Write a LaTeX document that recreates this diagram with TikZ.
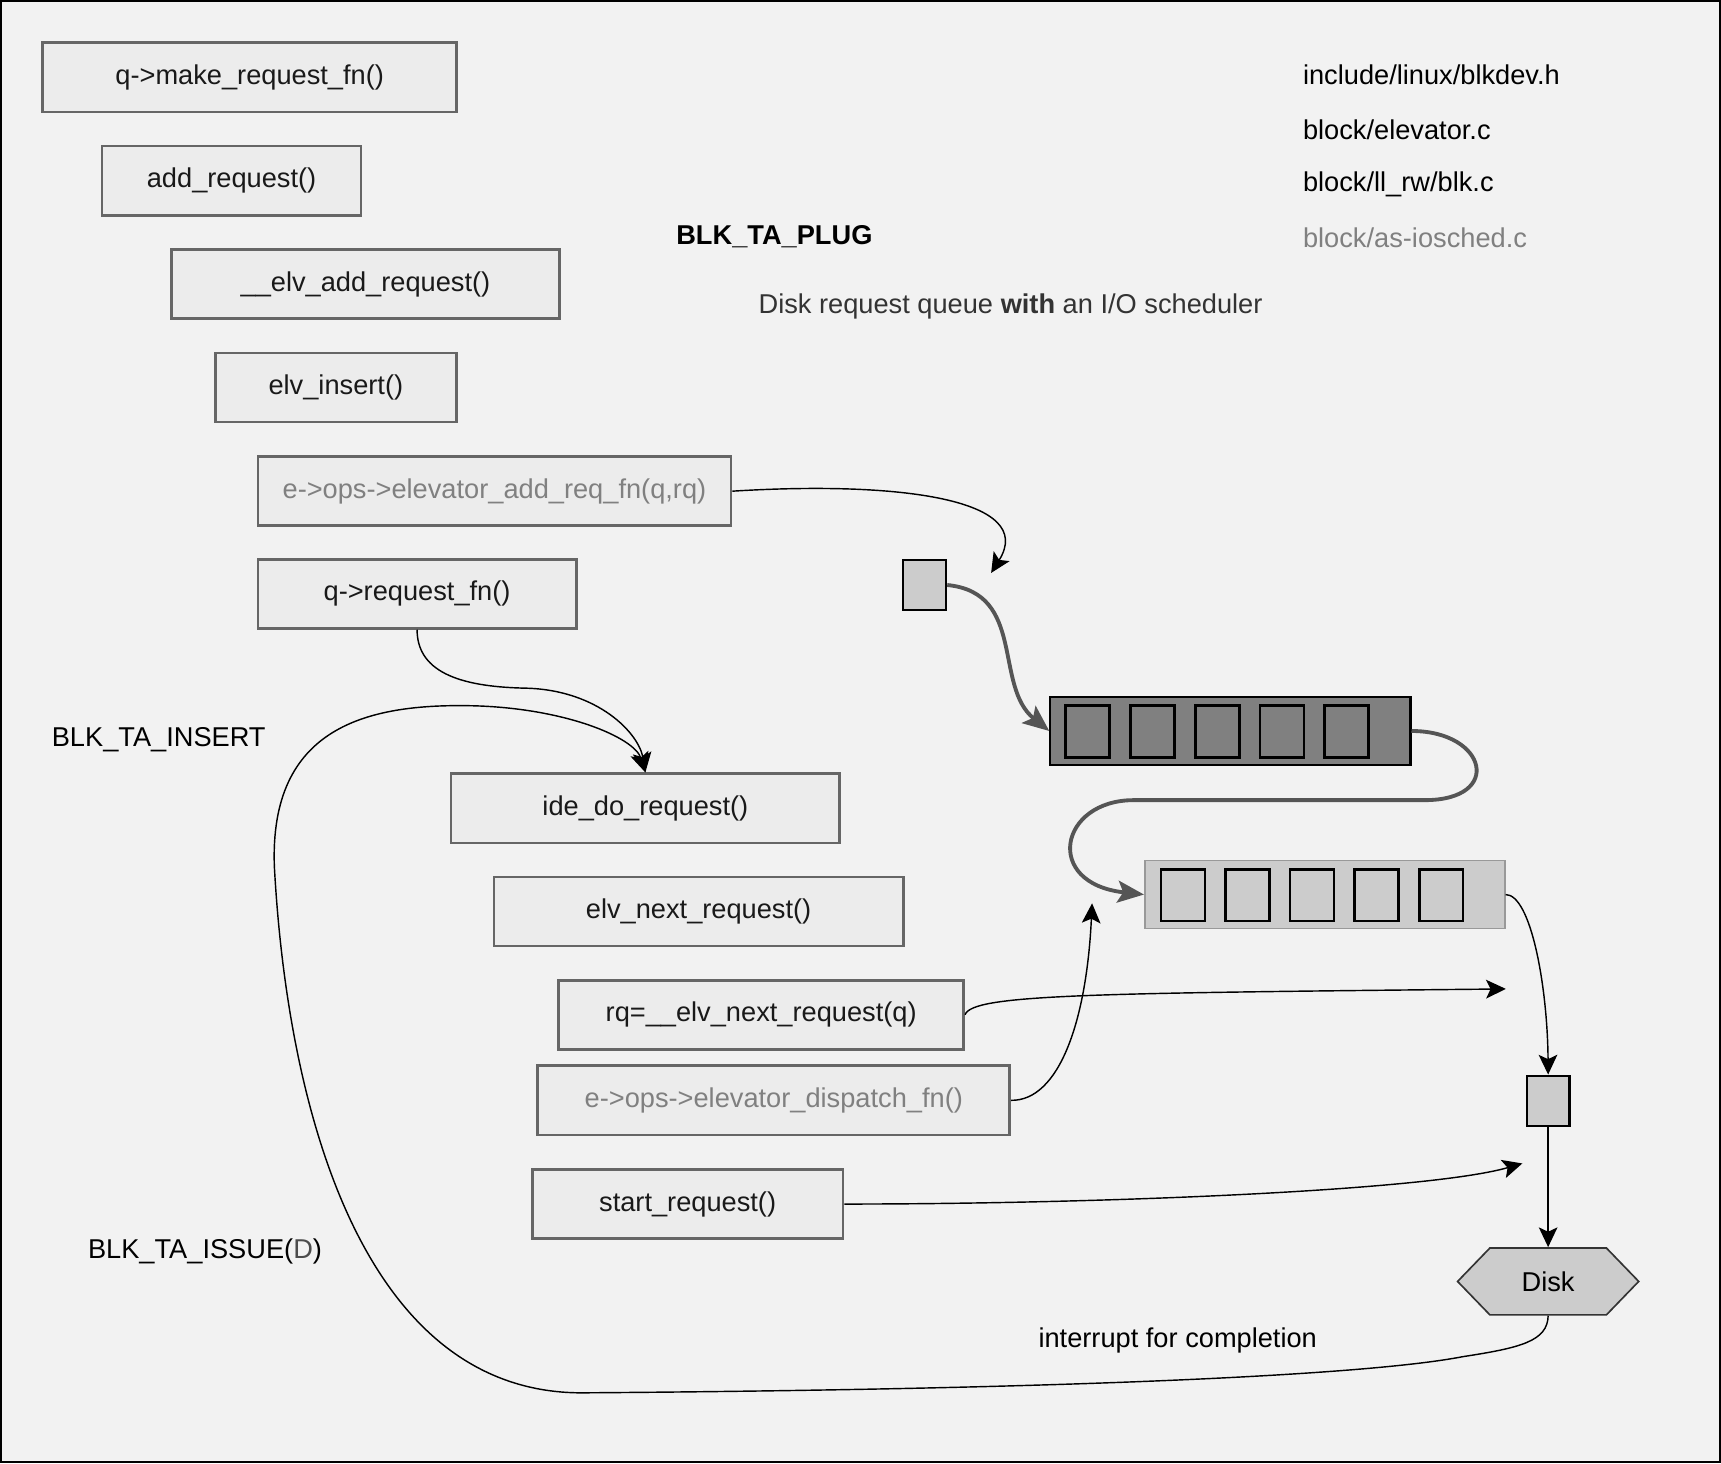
\documentclass[tikz,border=0pt]{standalone}
\usepackage{fontspec}
\setmainfont{Liberation Sans}
\usetikzlibrary{arrows.meta,shapes.symbols}
\definecolor{bgcol}{HTML}{F2F2F2}
\definecolor{boxfill}{HTML}{ECECEC}
\definecolor{boxline}{HTML}{666666}
\definecolor{celldark}{HTML}{808080}
\definecolor{celllight}{HTML}{CCCCCC}
\definecolor{flowgray}{HTML}{555555}
\definecolor{dimtext}{HTML}{808080}
\begin{document}
\begin{tikzpicture}[x=1pt,y=-1pt,
  font=\fontsize{24.8}{30}\selectfont,
  >={Stealth[length=18pt,width=17pt,inset=4pt]},
  fnbox/.style={draw=boxline,fill=boxfill,line width=2.5pt,minimum height=63pt,inner sep=0pt,text=black!90},
  dimbox/.style={fnbox,text=dimtext},
  label/.style={anchor=west,inner sep=0pt},
  queue/.style={draw=black,line width=2pt,minimum width=328pt,minimum height=62pt,inner sep=0pt},
  cell/.style={draw=black,line width=2.5pt,minimum width=40pt,minimum height=47pt,inner sep=0pt},
  slot/.style={draw=black,fill=celllight,line width=2pt,minimum width=39pt,minimum height=46pt,inner sep=0pt},
  flow/.style={->,line width=1.3pt},
  move/.style={->,line width=3.5pt,draw=flowgray,>={Stealth[length=24pt,width=20pt,inset=5pt]}}]
\useasboundingbox (0,0) rectangle (1568,1333);
\fill[bgcol] (0,0) rectangle (1568,1333);
\draw[line width=1.5pt] (0.75,0.75) rectangle (1567.25,1332.25);

% Call chain
\node[fnbox,minimum width=377pt] (mkreq) at (227.5,70.5) {q->make\_request\_fn()};
\node[fnbox,minimum width=236pt] (addreq) at (211,164.5) {add\_request()};
\node[fnbox,minimum width=354pt] (elvadd) at (333,259) {\_\_elv\_add\_request()};
\node[fnbox,minimum width=220pt] (elvins) at (306,353) {elv\_insert()};
\node[dimbox,minimum width=431pt] (addfn) at (450.5,447.5) {e->ops->elevator\_add\_req\_fn(q,rq)};
\node[fnbox,minimum width=290pt] (reqfn) at (380,541) {q->request\_fn()};
\node[fnbox,minimum width=354pt] (idedo) at (588,736.5) {ide\_do\_request()};
\node[fnbox,minimum width=373pt] (elvnext) at (636.5,830.5) {elv\_next\_request()};
\node[fnbox,minimum width=369pt] (rqnext) at (693.5,924.5) {rq=\_\_elv\_next\_request(q)};
\node[dimbox,minimum width=430pt] (dispfn) at (705,1002.5) {e->ops->elevator\_dispatch\_fn()};
\node[fnbox,minimum width=283pt] (startreq) at (626.5,1097) {start\_request()};

% Labels
\node[label,font=\fontsize{24.8}{30}\selectfont\bfseries] (plug) at (616,216) {BLK\_TA\_PLUG};
\node[label,text=black!80] (title) at (691,279) {Disk request queue \textbf{with} an I/O scheduler};
\node[label] (insert) at (47,674) {BLK\_TA\_INSERT};
\node[label] (issue) at (80,1140) {BLK\_TA\_ISSUE(\textcolor{black!70}{D})};
\node[label] (irq) at (946,1221) {interrupt for completion};
\node[label] (src1) at (1187,68) {include/linux/blkdev.h};
\node[label] (src2) at (1187,118) {block/elevator.c};
\node[label] (src3) at (1187,168) {block/ll\_rw/blk.c};
\node[label,text=dimtext] (src4) at (1187,217) {block/as-iosched.c};

% Queues and requests
\node[slot] (newrq) at (842.5,533) {};
\node[queue,fill=celldark] (schedq) at (1121,666) {};
\node[queue,fill=celllight,draw=black!40,line width=1.5pt] (dispq) at (1207,815) {};
\foreach \i in {1,...,5} {
  \node[cell,fill=celldark] (sq\i) at (932+59*\i,666.5) {};
  \node[cell,fill=celllight] (dq\i) at (1019+58.8*\i,815.5) {};
}
\node[slot] (outrq) at (1410.5,1003) {};
\node[signal,signal to=west and east,signal pointer angle=92,draw=black!80,fill=celllight,
  line width=1.5pt,minimum width=165pt,minimum height=61pt,inner sep=0pt] (disk) at (1410.5,1167.5) {Disk};

% Free arrow ends
\coordinate (plugtip) at (903,522);
\coordinate (rqtip) at (1372,901);
\coordinate (disptip) at (995,823);
\coordinate (starttip) at (1387,1060);

% Request flow
\draw[flow] (addfn.east) .. controls (820,438) and (945,455) .. (plugtip);
\draw[move] (newrq.east) .. controls (935,540) and (905,625) .. (schedq.west);
\draw[move] (schedq.east) .. controls (1355,666) and (1370,729) .. (1298,729) -- (1033,729)
  .. controls (965,729) and (950,805) .. (dispq.west);
\draw[flow] (dispq.east) .. controls (1395,815) and (1410,900) .. (outrq.north);
\draw[flow] (outrq.south) -- (disk.north);
\draw[flow] (rqnext.east) .. controls (886,906) and (990,905) .. (rqtip);
\draw[flow] (dispfn.east) .. controls (965,1003) and (990,930) .. (disptip);
\draw[flow] (startreq.east) .. controls (1000,1097) and (1300,1085) .. (starttip);
\draw[flow] (reqfn.south) .. controls (380,615) and (425,626) .. (480,627)
  .. controls (545,629) and (582,668) .. (idedo.north);

% Completion loop
\draw[flow] (disk.south) .. controls (1410,1222) and (1385,1228) .. (1333,1236)
  .. controls (1240,1254) and (950,1266) .. (530,1269)
  .. controls (330,1269) and (262,1010) .. (250,790)
  .. controls (245,662) and (335,641) .. (430,643)
  .. controls (515,645) and (578,672) .. (idedo.north);
\end{tikzpicture}
\end{document}
